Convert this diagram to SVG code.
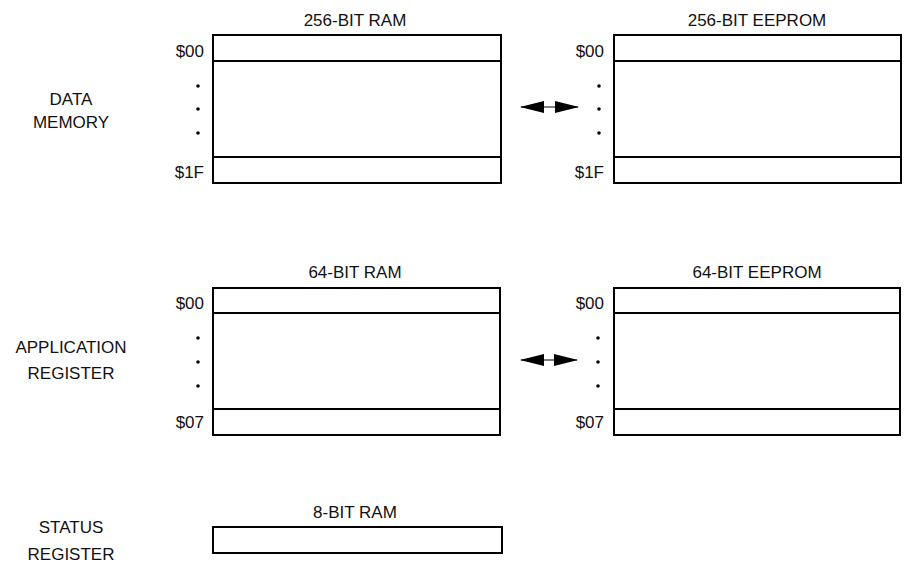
<svg xmlns="http://www.w3.org/2000/svg" width="904" height="565" viewBox="0 0 904 565">
<style>
text{font-family:"Liberation Sans",Arial,sans-serif;font-size:17px;fill:#111}
.c{text-anchor:middle}
.r{text-anchor:end}
.box{fill:#fff;stroke:#000;stroke-width:2}
.ln{stroke:#000;stroke-width:2}
.shaft{stroke:#000;stroke-width:1}
</style>
<defs>
<marker id="ah" markerWidth="24" markerHeight="12" refX="23" refY="6" orient="auto-start-reverse" markerUnits="userSpaceOnUse">
<path d="M0,0 L24,6 L0,12 Z" fill="#000"/>
</marker>
</defs>
<rect width="904" height="565" fill="#fff"/>

<g id="label-data-memory">
<text class="c" x="71" y="105">DATA</text>
<text class="c" x="71" y="128">MEMORY</text>
</g>
<g id="label-application-register">
<text class="c" x="71" y="353">APPLICATION</text>
<text class="c" x="71" y="379">REGISTER</text>
</g>
<g id="label-status-register">
<text class="c" x="71" y="533">STATUS</text>
<text class="c" x="71" y="560">REGISTER</text>
</g>

<g id="ram256">
<text class="c" x="355" y="26">256-BIT RAM</text>
<rect class="box" x="213" y="35" width="288" height="148"/>
<line class="ln" x1="213" y1="61" x2="501" y2="61"/>
<line class="ln" x1="213" y1="157" x2="501" y2="157"/>
<text class="r" x="204" y="57">$00</text>
<text class="r" x="204" y="178">$1F</text>
<circle cx="198" cy="86" r="1.8"/>
<circle cx="198" cy="109" r="1.8"/>
<circle cx="198" cy="133" r="1.8"/>
</g>

<g id="eeprom256">
<text class="c" x="757" y="26">256-BIT EEPROM</text>
<rect class="box" x="614" y="35" width="287" height="148"/>
<line class="ln" x1="614" y1="61" x2="901" y2="61"/>
<line class="ln" x1="614" y1="157" x2="901" y2="157"/>
<text class="r" x="604" y="57">$00</text>
<text class="r" x="604" y="178">$1F</text>
<circle cx="599" cy="86" r="1.8"/>
<circle cx="599" cy="109" r="1.8"/>
<circle cx="599" cy="133" r="1.8"/>
</g>

<g id="ram64">
<text class="c" x="355" y="278">64-BIT RAM</text>
<rect class="box" x="213" y="288" width="287" height="147"/>
<line class="ln" x1="213" y1="313" x2="500" y2="313"/>
<line class="ln" x1="213" y1="409" x2="500" y2="409"/>
<text class="r" x="204" y="309">$00</text>
<text class="r" x="204" y="428">$07</text>
<circle cx="198" cy="338" r="1.8"/>
<circle cx="198" cy="362" r="1.8"/>
<circle cx="198" cy="386" r="1.8"/>
</g>

<g id="eeprom64">
<text class="c" x="757" y="278">64-BIT EEPROM</text>
<rect class="box" x="614" y="288" width="286" height="147"/>
<line class="ln" x1="614" y1="313" x2="900" y2="313"/>
<line class="ln" x1="614" y1="409" x2="900" y2="409"/>
<text class="r" x="604" y="309">$00</text>
<text class="r" x="604" y="428">$07</text>
<circle cx="598" cy="338" r="1.8"/>
<circle cx="598" cy="362" r="1.8"/>
<circle cx="598" cy="386" r="1.8"/>
</g>

<g id="ram8">
<text class="c" x="355" y="518">8-BIT RAM</text>
<rect class="box" x="213" y="527" width="289" height="26"/>
</g>

<g id="connectors">
<line class="shaft" x1="521" y1="107" x2="578" y2="107" marker-start="url(#ah)" marker-end="url(#ah)"/>
<line class="shaft" x1="521" y1="360" x2="577" y2="360" marker-start="url(#ah)" marker-end="url(#ah)"/>
</g>
</svg>
